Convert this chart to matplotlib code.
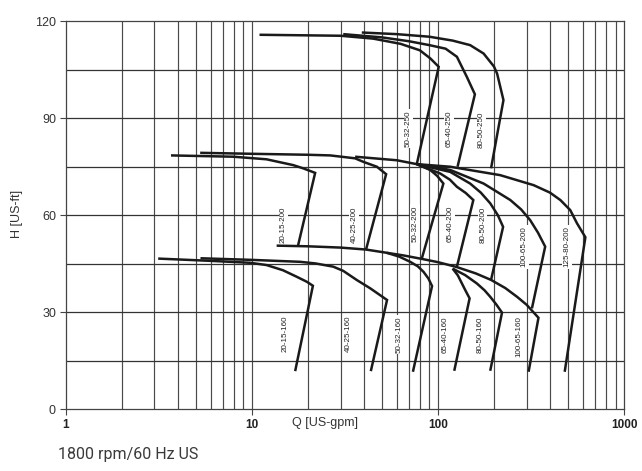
import numpy as np
import matplotlib
matplotlib.use("Agg")
import matplotlib.pyplot as plt
from matplotlib.ticker import FixedLocator, NullFormatter, NullLocator

# pump curves: top QH curve, then the straight limit line down to its lower end
pumps = ["20-15-160", "40-25-160", "50-32-160", "65-40-160", "80-50-160", "100-65-160",
         "20-15-200", "40-25-200", "50-32-200", "65-40-200", "80-50-200", "100-65-200", "125-80-200",
         "50-32-250", "65-40-250", "80-50-250"]

q_20_15_160 = [3.14, 6, 9.8, 12.0, 14.7, 17.4, 19.8, 21.3, 17.1]
h_20_15_160 = [46.6, 45.9, 45.3, 44.6, 43.0, 41.0, 39.4, 38.2, 11.8]
q_40_25_160 = [5.3, 10, 18.2, 22, 27.4, 31, 36.6, 43.3, 53.3, 43.6]
h_40_25_160 = [46.7, 46.2, 45.6, 45.1, 44.1, 42.8, 40.0, 37.4, 33.8, 11.8]
q_50_32_160 = [53, 62, 71, 78, 83.7, 89, 93, 73.4]
h_50_32_160 = [48.4, 47.2, 45.6, 44.2, 42.5, 40.4, 38.1, 11.6]
q_65_40_160 = [120, 128, 134.6, 141, 148, 122.4]
h_65_40_160 = [43.5, 41.4, 38.9, 36.6, 34.3, 11.9]
q_80_50_160 = [120, 140, 162, 178, 191, 206, 221, 191]
h_80_50_160 = [43.5, 41.5, 38.9, 36.8, 34.8, 32.4, 29.9, 11.9]
q_100_65_160 = [13.6, 20, 30, 41, 53, 65, 82, 100, 126, 160, 193, 230, 266, 300, 347, 307]
h_100_65_160 = [50.6, 50.4, 50.0, 49.4, 48.4, 47.6, 46.5, 45.5, 44.0, 42.0, 40.0, 37.5, 34.8, 32.3, 28.3, 11.6]

q_20_15_200 = [3.68, 7.96, 12.0, 16.7, 18.9, 21.9, 17.7]
h_20_15_200 = [78.5, 78.1, 77.3, 75.5, 74.5, 73.1, 50.5]
q_40_25_200 = [5.28, 10, 20, 26.4, 35.9, 39.8, 47, 52.7, 41.1]
h_40_25_200 = [79.3, 79.0, 78.7, 78.5, 77.6, 76.5, 75.0, 72.7, 49.4]
q_50_32_200 = [35.9, 60.2, 77, 90.9, 99, 107, 82]
h_50_32_200 = [78.1, 77.0, 75.8, 74.0, 72.2, 69.8, 46.7]
q_65_40_200 = [77, 103, 116, 126.5, 141, 155, 126.5]
h_65_40_200 = [75.8, 72.9, 71.0, 68.8, 66.9, 64.7, 44.1]
q_80_50_200 = [77, 116.5, 149, 170, 191, 210, 224, 193]
h_80_50_200 = [75.8, 73.4, 69.8, 67.0, 63.7, 60.0, 56.4, 40.0]
q_100_65_200 = [77, 116.5, 176, 245, 280, 313, 345, 377, 320]
h_100_65_200 = [75.8, 74.0, 69.8, 64.7, 61.8, 58.5, 54.6, 50.3, 31.2]
q_125_80_200 = [77, 116.5, 216, 327, 400, 455, 514, 559, 620, 480]
h_125_80_200 = [75.8, 75.0, 72.4, 69.3, 67.0, 64.7, 61.6, 57.5, 53.2, 11.6]

q_50_32_250 = [11.0, 30, 45, 63, 80, 91, 101, 77]
h_50_32_250 = [115.8, 115.5, 114.6, 113.0, 111.0, 108.5, 105.9, 75.8]
q_65_40_250 = [31, 50, 70, 90, 110, 126.5, 143, 158, 127.5]
h_65_40_250 = [116.0, 115.0, 113.8, 112.6, 111.5, 109.0, 102.8, 97.4, 75.0]
q_80_50_250 = [39, 60, 90, 120, 149, 176, 200, 208, 225, 193]
h_80_50_250 = [116.5, 116.0, 115.2, 114.0, 112.6, 110.0, 106.0, 103.8, 95.6, 74.5]

curves_q = [q_20_15_160, q_40_25_160, q_50_32_160, q_65_40_160, q_80_50_160, q_100_65_160,
            q_20_15_200, q_40_25_200, q_50_32_200, q_65_40_200, q_80_50_200, q_100_65_200, q_125_80_200,
            q_50_32_250, q_65_40_250, q_80_50_250]
curves_h = [h_20_15_160, h_40_25_160, h_50_32_160, h_65_40_160, h_80_50_160, h_100_65_160,
            h_20_15_200, h_40_25_200, h_50_32_200, h_65_40_200, h_80_50_200, h_100_65_200, h_125_80_200,
            h_50_32_250, h_65_40_250, h_80_50_250]

# where each pump name sits (Q, H)
label_q = [15.1, 33, 62.2, 109, 169, 271,
           14.8, 35.5, 75.5, 116.5, 174, 291, 494,
           69.5, 115, 171]
label_h = [23.5, 23.5, 23, 23, 23, 22.6,
           57, 57, 57.5, 57.5, 57, 50.2, 50.2,
           86.8, 86.8, 86.3]

x_ticks = [1, 10, 100, 1000]
y_ticks = [0, 30, 60, 90, 120]

fig = plt.figure(figsize=(6.42, 4.71), dpi=100)
ax = fig.add_axes([0.1023, 0.131, 0.8697, 0.824])
ax.set_xscale("log")
ax.set_xlim(1, 1000)
ax.set_ylim(0, 120)

# grid: every log position and every 15 ft
for dec in [1, 10, 100]:
    for m in range(1, 10):
        if dec * m > 1:
            ax.axvline(m * dec, color="#4a4a4a", lw=0.85, zorder=1)
for h in range(15, 120, 15):
    ax.axhline(h, color="#333333", lw=0.9, zorder=1)

for q, h in zip(curves_q, curves_h):
    ax.plot(q, h, color="#1a1a1a", lw=1.8, solid_joinstyle="miter", solid_capstyle="butt", zorder=3)

for name, lq, lh in zip(pumps, label_q, label_h):
    ax.text(lq, lh, name, rotation=90, ha="center", va="center", fontsize=5.8,
            family="Liberation Sans", color="#222222", zorder=4,
            bbox=dict(boxstyle="square,pad=0.15", fc="white", ec="none"))

for s in ax.spines.values():
    s.set_color("#444444")
    s.set_linewidth(0.9)

ax.xaxis.set_major_locator(FixedLocator(x_ticks))
ax.xaxis.set_minor_locator(NullLocator())
ax.xaxis.set_minor_formatter(NullFormatter())
ax.set_xticklabels([str(v) for v in x_ticks], fontweight="bold", family="Liberation Sans",
                   fontsize=8.5, color="#222222")
ax.set_yticks(y_ticks)
ax.set_yticklabels([str(v) for v in y_ticks], family="Liberation Sans", fontsize=9, color="#333333")
ax.tick_params(axis="x", length=4, color="#444444", pad=3)
ax.tick_params(axis="y", length=4, color="#444444", pad=3)

fig.text(0.506, 0.101, "Q [US-gpm]", ha="center", va="center", family="Liberation Sans",
         fontsize=9, color="#333333")
fig.text(0.027, 0.545, "H [US-ft]", ha="center", va="center", rotation=90,
         family="Liberation Sans", fontsize=9, color="#333333")
fig.text(0.09, 0.034, "1800 rpm/60 Hz US", ha="left", va="center", family="Roboto",
         fontsize=11.5, color="#3a3a3a")

fig.savefig("out.png", dpi=100)
